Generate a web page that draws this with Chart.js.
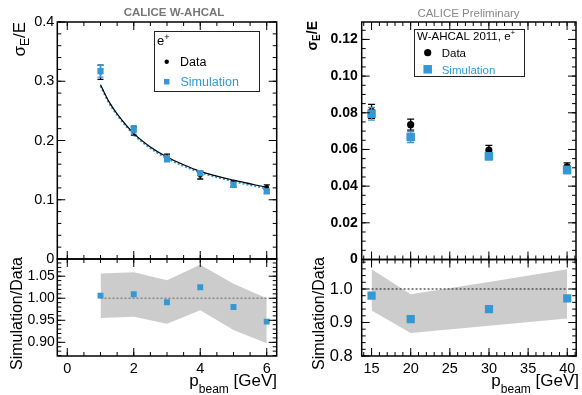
<!DOCTYPE html>
<html>
<head>
<meta charset="utf-8">
<script src="https://cdn.jsdelivr.net/npm/chart.js@4/dist/chart.umd.min.js"></script>
<style>
  html, body { margin: 0; padding: 0; background: #fff; }
  #wrap { position: relative; width: 582px; height: 395px; }
  #wrap canvas { position: absolute; left: 0; top: 0; }
</style>
</head>
<body>
<div id="wrap">
  <canvas id="lowTop" width="582" height="395"></canvas>
  <canvas id="lowRatio" width="582" height="395"></canvas>
  <canvas id="highTop" width="582" height="395"></canvas>
  <canvas id="highRatio" width="582" height="395"></canvas>
</div>
<script>
// low energy run, 1-6 GeV
const lowBeam = [1, 2, 3, 4, 5, 6];
const lowData = [0.315, 0.216, 0.171, 0.141, 0.127, 0.121];
const lowDataErr = [0.012, 0.007, 0.006, 0.006, 0.005, 0.004];
const lowSim = [0.317, 0.219, 0.169, 0.145, 0.125, 0.114];
const lowSimErr = [0.010, 0.006, 0.005, 0.004, 0.004, 0.003];
// fitted resolution curves
const fitBeam = [1, 1.25, 1.5, 2, 2.5, 3, 3.5, 4, 5, 6];
const dataFit = [0.294, 0.266, 0.245, 0.212, 0.189, 0.172, 0.159, 0.148, 0.133, 0.121];
const simFit = [0.292, 0.264, 0.243, 0.210, 0.187, 0.170, 0.157, 0.146, 0.131, 0.119];
const lowRatio = [1.006, 1.009, 0.991, 1.025, 0.980, 0.947];
const lowBandUp = [1.056, 1.059, 1.041, 1.076, 1.033, 1.000];
const lowBandDown = [0.955, 0.958, 0.942, 0.973, 0.928, 0.898];

// high energy run, 15-40 GeV
const highBeam = [15, 20, 30, 40];
const highData = [0.0808, 0.0735, 0.0597, 0.0505];
const highDataErr = [0.0038, 0.0030, 0.0025, 0.0022];
const highSim = [0.0795, 0.0668, 0.0563, 0.0488];
const highSimErr = [0.0035, 0.0030, 0.0020, 0.0020];
const highRatio = [0.980, 0.910, 0.940, 0.972];
const highBandUp = [1.059, 0.984, 1.021, 1.059];
const highBandDown = [0.936, 0.869, 0.890, 0.912];

const BLUE = '#3598d3';
const FAM = '"Liberation Sans", Arial, sans-serif';
const f = (size, w) => (w || 'normal') + ' ' + size + 'px ' + FAM;
const pts = (xs, ys) => xs.map((x, i) => ({x: x, y: ys[i]}));

// text with sub/superscripts
function rich(ctx, parts, x, y, align) {
  let w = 0;
  parts.forEach(p => { ctx.font = p.font; p.w = ctx.measureText(p.t).width; w += p.w; });
  let cx = align === 'right' ? x - w : align === 'center' ? x - w / 2 : x;
  ctx.textAlign = 'left';
  ctx.textBaseline = 'alphabetic';
  parts.forEach(p => {
    ctx.font = p.font;
    ctx.fillStyle = p.color || '#000';
    ctx.fillText(p.t, cx, y + (p.dy || 0));
    cx += p.w;
  });
}
function rotated(ctx, parts, bx, topY) {
  ctx.save();
  ctx.translate(bx, topY);
  ctx.rotate(-Math.PI / 2);
  rich(ctx, parts, 0, 0, 'right');
  ctx.restore();
}
function square(ctx, x, y, s, c) { ctx.fillStyle = c; ctx.fillRect(x - s / 2, y - s / 2, s, s); }
function dot(ctx, x, y, r, c) { ctx.fillStyle = c; ctx.beginPath(); ctx.arc(x, y, r, 0, 2 * Math.PI); ctx.fill(); }

const errorBars = {
  id: 'errorBars',
  beforeDatasetDraw(chart, args) {
    const ds = chart.data.datasets[args.index];
    if (!ds.errors) return;
    const ctx = chart.ctx, y = chart.scales.y;
    ctx.save();
    ctx.strokeStyle = ds.errorColor;
    ctx.lineWidth = 1.3;
    args.meta.data.forEach((p, i) => {
      const v = ds.data[i].y, e = ds.errors[i], c = ds.capWidth;
      const top = y.getPixelForValue(v + e), bot = y.getPixelForValue(v - e);
      ctx.beginPath();
      ctx.moveTo(p.x, top); ctx.lineTo(p.x, bot);
      ctx.moveTo(p.x - c, top); ctx.lineTo(p.x + c, top);
      ctx.moveTo(p.x - c, bot); ctx.lineTo(p.x + c, bot);
      ctx.stroke();
    });
    ctx.restore();
  }
};

// ROOT style frame with inward ticks on all four sides
const frameTicks = {
  id: 'frameTicks',
  afterDraw(chart, args, opts) {
    const {ctx, chartArea: a, scales: {x, y}} = chart;
    ctx.save();
    ctx.strokeStyle = '#000';
    ctx.lineWidth = 1;
    const minors = (s, step) => {
      const out = [];
      for (let v = Math.ceil(s.min / step - 1e-6) * step; v <= s.max + 1e-9; v += step) out.push(v);
      return out;
    };
    const tickX = (v, len) => {
      const px = x.getPixelForValue(v);
      ctx.moveTo(px, a.bottom); ctx.lineTo(px, a.bottom - len);
      ctx.moveTo(px, a.top); ctx.lineTo(px, a.top + len);
    };
    const tickY = (v, len) => {
      const py = y.getPixelForValue(v);
      ctx.moveTo(a.left, py); ctx.lineTo(a.left + len, py);
      ctx.moveTo(a.right, py); ctx.lineTo(a.right - len, py);
    };
    ctx.beginPath();
    minors(x, opts.xMinor).forEach(v => tickX(v, 4));
    minors(y, opts.yMinor).forEach(v => tickY(v, 4));
    x.ticks.forEach(t => tickX(t.value, 8));
    y.ticks.forEach(t => tickY(t.value, 8));
    ctx.stroke();
    ctx.lineWidth = 1.5;
    ctx.strokeRect(a.left, a.top, a.right - a.left, a.bottom - a.top);
    ctx.restore();
  }
};

function makePanel(id, cfg) {
  const a = cfg.area;
  const xh = cfg.x.labels ? 24 : 0;
  return new Chart(document.getElementById(id), {
    type: 'scatter',
    data: { datasets: cfg.datasets },
    options: {
      animation: false,
      responsive: false,
      events: [],
      layout: { padding: { left: a.left - 50, top: a.top, right: 582 - a.right, bottom: 395 - a.bottom - xh } },
      scales: {
        x: {
          type: 'linear', min: cfg.x.min, max: cfg.x.max,
          afterFit: s => { s.height = xh; },
          grid: { display: false, drawTicks: false },
          border: { display: false },
          ticks: { display: cfg.x.labels, stepSize: cfg.x.step, includeBounds: false, autoSkip: false,
                   maxRotation: 0, padding: cfg.x.pad, font: cfg.x.font, color: '#000', callback: cfg.x.fmt }
        },
        y: {
          type: 'linear', min: cfg.y.min, max: cfg.y.max,
          afterFit: s => { s.width = 50; },
          grid: { display: false, drawTicks: false },
          border: { display: false },
          ticks: { stepSize: cfg.y.step, includeBounds: false, autoSkip: false,
                   padding: cfg.y.pad, font: cfg.y.font, color: '#000', callback: cfg.y.fmt }
        }
      },
      plugins: {
        legend: { display: false },
        tooltip: { enabled: false },
        frameTicks: { xMinor: cfg.x.minor, yMinor: cfg.y.minor }
      }
    },
    plugins: [errorBars, frameTicks, { id: 'txt', afterDraw: c => cfg.text(c.ctx) }]
  });
}

const lowX = { min: -0.3, max: 6.3, step: 2, minor: 0.5, pad: 4, font: { family: FAM, size: 14.5 }, fmt: v => String(v) };
const highX = { min: 13.74, max: 41.14, step: 5, minor: 1, pad: 4, font: { family: FAM, size: 14.5 }, fmt: v => String(v) };

makePanel('lowTop', {
  area: { left: 57.3, top: 22, right: 276.7, bottom: 259 },
  x: Object.assign({}, lowX, { labels: false }),
  y: { min: 0, max: 0.4, step: 0.1, minor: 0.02, pad: 3, font: { family: FAM, size: 14.5 },
       fmt: v => v === 0 ? '0' : v.toFixed(1) },
  datasets: [
    { type: 'line', data: pts(fitBeam, simFit), borderColor: BLUE, borderWidth: 2, borderDash: [2, 2],
      pointRadius: 0, fill: false, cubicInterpolationMode: 'monotone', order: 4 },
    { type: 'line', data: pts(fitBeam, dataFit), borderColor: '#000', borderWidth: 1.2,
      pointRadius: 0, fill: false, cubicInterpolationMode: 'monotone', order: 3 },
    { label: 'Data', data: pts(lowBeam, lowData), pointStyle: 'circle', pointRadius: 2.3,
      backgroundColor: '#000', borderWidth: 0, errors: lowDataErr, errorColor: '#000', capWidth: 3, order: 2 },
    { label: 'Simulation', data: pts(lowBeam, lowSim), pointStyle: 'rect', pointRadius: 4.4,
      backgroundColor: BLUE, borderWidth: 0, errors: lowSimErr, errorColor: BLUE, capWidth: 3, order: 1 }
  ],
  text: ctx => {
    ctx.save();
    rich(ctx, [{ t: 'CALICE W-AHCAL', font: f(11.5, 'bold'), color: '#777' }], 174, 16, 'center');
    rotated(ctx, [{ t: 'σ', font: f(17) }, { t: 'E', font: f(12), dy: 4 }, { t: '/E', font: f(17) }], 25, 22);
    ctx.lineWidth = 1;
    ctx.strokeStyle = '#222';
    ctx.strokeRect(154.5, 31.5, 105, 60);
    rich(ctx, [{ t: 'e', font: f(13) }, { t: '+', font: f(9), dy: -5 }], 157, 44.5, 'left');
    dot(ctx, 166.7, 61.7, 2.2, '#000');
    rich(ctx, [{ t: 'Data', font: f(12.5) }], 180, 66, 'left');
    square(ctx, 166.7, 81.7, 5.5, BLUE);
    rich(ctx, [{ t: 'Simulation', font: f(12.5), color: BLUE }], 180.5, 86.3, 'left');
    ctx.restore();
  }
});

makePanel('lowRatio', {
  area: { left: 57.3, top: 259, right: 276.7, bottom: 356 },
  x: Object.assign({}, lowX, { labels: true }),
  y: { min: 0.869, max: 1.089, step: 0.05, minor: 0.01, pad: 2.5, font: { family: FAM, size: 14 },
       fmt: v => v.toFixed(2) },
  datasets: [
    { type: 'line', data: pts(lowBeam, lowBandDown), borderWidth: 0, pointRadius: 0, fill: false, order: 5 },
    { type: 'line', data: pts(lowBeam, lowBandUp), borderWidth: 0, pointRadius: 0, fill: '-1',
      backgroundColor: '#cccccc', order: 4 },
    { type: 'line', data: pts([lowBeam[0], lowBeam[lowBeam.length - 1]], [1, 1]), borderColor: '#888',
      borderWidth: 1.5, borderDash: [2, 2], pointRadius: 0, fill: false, order: 3 },
    { data: pts(lowBeam, lowRatio), pointStyle: 'rect', pointRadius: 4.2, backgroundColor: BLUE,
      borderWidth: 0, order: 1 }
  ],
  text: ctx => {
    ctx.save();
    rotated(ctx, [{ t: 'Simulation/Data', font: f(16) }], 21.5, 257);
    rich(ctx, [{ t: 'p', font: f(17) }, { t: 'beam', font: f(12), dy: 7 }, { t: ' [GeV]', font: f(17) }],
         277, 386, 'right');
    ctx.restore();
  }
});

makePanel('highTop', {
  area: { left: 361.7, top: 22, right: 579.3, bottom: 259.5 },
  x: Object.assign({}, highX, { labels: false }),
  y: { min: 0, max: 0.1295, step: 0.02, minor: 0.005, pad: 4, font: { family: FAM, size: 14, weight: 'bold' },
       fmt: v => v === 0 ? '0' : v.toFixed(2) },
  datasets: [
    { label: 'Data', data: pts(highBeam, highData), pointStyle: 'circle', pointRadius: 3.6,
      backgroundColor: '#000', borderWidth: 0, errors: highDataErr, errorColor: '#000', capWidth: 3.5, order: 2 },
    { label: 'Simulation', data: pts(highBeam, highSim), pointStyle: 'rect', pointRadius: 6,
      backgroundColor: BLUE, borderWidth: 0, errors: highSimErr, errorColor: BLUE, capWidth: 3.5, order: 1 }
  ],
  text: ctx => {
    ctx.save();
    rich(ctx, [{ t: 'CALICE Preliminary', font: f(11.5), color: '#888' }], 468.5, 16.5, 'center');
    rotated(ctx, [{ t: 'σ', font: f(14, 'bold') }, { t: 'E', font: f(10, 'bold'), dy: 3 },
                  { t: '/E', font: f(14, 'bold') }], 317, 21);
    ctx.lineWidth = 1;
    ctx.strokeStyle = '#222';
    ctx.strokeRect(414.5, 29.5, 110, 47);
    rich(ctx, [{ t: 'W-AHCAL 2011, e', font: f(11.5) }, { t: '+', font: f(8), dy: -5 }], 417, 40, 'left');
    dot(ctx, 427.7, 52.7, 3.6, '#000');
    rich(ctx, [{ t: 'Data', font: f(11.5) }], 441.7, 57, 'left');
    square(ctx, 427.7, 69.3, 8.5, BLUE);
    rich(ctx, [{ t: 'Simulation', font: f(11.5), color: BLUE }], 441.7, 74, 'left');
    ctx.restore();
  }
});

makePanel('highRatio', {
  area: { left: 361.7, top: 259.5, right: 579.3, bottom: 356 },
  x: Object.assign({}, highX, { labels: true }),
  y: { min: 0.8, max: 1.088, step: 0.1, minor: 0.02, pad: 9, font: { family: FAM, size: 16.5 },
       fmt: v => v.toFixed(1) },
  datasets: [
    { type: 'line', data: pts(highBeam, highBandDown), borderWidth: 0, pointRadius: 0, fill: false, order: 5 },
    { type: 'line', data: pts(highBeam, highBandUp), borderWidth: 0, pointRadius: 0, fill: '-1',
      backgroundColor: '#cccccc', order: 4 },
    { type: 'line', data: pts([highBeam[0], highBeam[highBeam.length - 1]], [1, 1]), borderColor: '#333',
      borderWidth: 1.2, borderDash: [2, 2], pointRadius: 0, fill: false, order: 3 },
    { data: pts(highBeam, highRatio), pointStyle: 'rect', pointRadius: 5.8, backgroundColor: BLUE,
      borderWidth: 0, order: 1 }
  ],
  text: ctx => {
    ctx.save();
    rotated(ctx, [{ t: 'Simulation/Data', font: f(16) }], 324, 257);
    rich(ctx, [{ t: 'p', font: f(17) }, { t: 'beam', font: f(12), dy: 7 }, { t: ' [GeV]', font: f(17) }],
         579, 386, 'right');
    ctx.restore();
  }
});
</script>
</body>
</html>
